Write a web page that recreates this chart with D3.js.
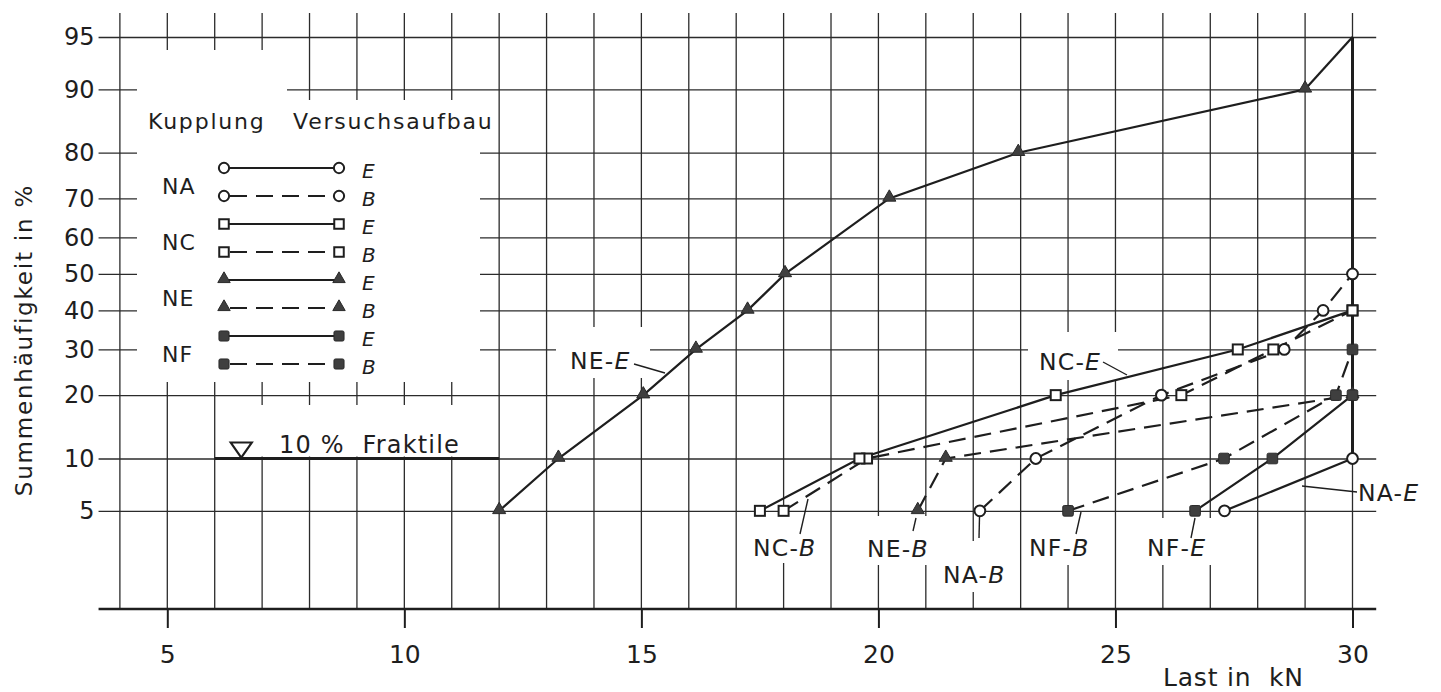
<!DOCTYPE html>
<html><head><meta charset="utf-8">
<script src="https://cdn.jsdelivr.net/npm/d3@7"></script>
<style>
html,body{margin:0;padding:0;background:#fff;}
svg{display:block;font-family:"DejaVu Sans",sans-serif;}
</style></head>
<body><svg id="c" width="1441" height="692"></svg>
<script>
// ---------- data ----------
const xTicks = [5, 10, 15, 20, 25, 30];
const xGrid = d3.range(4, 31);
const pctTicks = [5, 10, 20, 30, 40, 50, 60, 70, 80, 90, 95];
// each point: [Last in kN, Summenhäufigkeit in %]
const NA_E = [[27.3, 5], [30, 10]];
const NA_B = [[22.14, 5], [23.32, 10], [25.97, 20], [28.56, 30], [29.38, 40], [30, 50]];
const NC_E = [[17.5, 5], [19.6, 10], [23.74, 20], [27.58, 30], [30, 40]];
const NC_B = [[18.0, 5], [19.76, 10], [26.39, 20], [28.33, 30], [30, 40]];
const NE_E = [[12, 5], [13.25, 10], [15.04, 20], [16.15, 30], [17.24, 40], [18.03, 50], [20.23, 70], [22.95, 80], [29.0, 90]];
const NE_E_end = [[29.0, 90], [30, 95]];
const NE_B = [[20.83, 5], [21.42, 10], [30, 20]];
const NF_E = [[26.68, 5], [28.31, 10], [30, 20]];
const NF_B = [[24.0, 5], [27.29, 10], [29.65, 20], [30, 30]];
const fraktile = {pct: 10, from: 6, to: 12, mark: 6.56};
const limitLine = {load: 30, from: 10, to: 95};

// ---------- scales ----------
function probit(p){
  const a=[-3.969683028665376e+01,2.209460984245205e+02,-2.759285104469687e+02,1.383577518672690e+02,-3.066479806614716e+01,2.506628277459239e+00];
  const b=[-5.447609879822406e+01,1.615858368580409e+02,-1.556989798598866e+02,6.680131188771972e+01,-1.328068155288572e+01];
  const c=[-7.784894002430293e-03,-3.223964580411365e-01,-2.400758277161838e+00,-2.549732539343734e+00,4.374664141464968e+00,2.938163982698783e+00];
  const d=[7.784695709041462e-03,3.224671290700398e-01,2.445134137142996e+00,3.754408661907416e+00];
  const pl=0.02425, ph=1-pl; let q,r;
  if(p<pl){q=Math.sqrt(-2*Math.log(p));return (((((c[0]*q+c[1])*q+c[2])*q+c[3])*q+c[4])*q+c[5])/((((d[0]*q+d[1])*q+d[2])*q+d[3])*q+1);}
  if(p<=ph){q=p-0.5;r=q*q;return (((((a[0]*r+a[1])*r+a[2])*r+a[3])*r+a[4])*r+a[5])*q/(((((b[0]*r+b[1])*r+b[2])*r+b[3])*r+b[4])*r+1);}
  q=Math.sqrt(-2*Math.log(1-p));return -(((((c[0]*q+c[1])*q+c[2])*q+c[3])*q+c[4])*q+c[5])/((((d[0]*q+d[1])*q+d[2])*q+d[3])*q+1);
}
const x = d3.scaleLinear().domain([5, 30]).range([167.3, 1352.5]);
const yz = d3.scaleLinear().domain([probit(0.01), probit(0.95)]).range([609, 37]);
const y = p => yz(probit(p / 100));

const svg = d3.select("#c");
const INK = "#1e1e1e", GRID = "#2b2b2b", FILL = "#3f3f3f";
const gridLeft = x(3.55), gridRight = x(30.5), gridTop = 13, base = yz(probit(0.01));

// ---------- grid ----------
const g = svg.append("g");
g.selectAll("line.v").data(xGrid).join("line")
  .attr("x1", d => x(d)).attr("x2", d => x(d)).attr("y1", gridTop).attr("y2", base)
  .attr("stroke", GRID).attr("stroke-width", 1.3);

const yAxis = d3.axisLeft(yz)
  .tickValues(pctTicks.map(p => probit(p / 100)))
  .tickFormat((d, i) => pctTicks[i])
  .tickSize(-(gridRight - gridLeft)).tickPadding(4);
const ya = svg.append("g").attr("transform", `translate(${gridLeft},0)`).call(yAxis);
ya.select(".domain").remove();
ya.selectAll(".tick line").attr("stroke", GRID).attr("stroke-width", 1.3);
ya.selectAll(".tick text").attr("font-size", 24).attr("fill", INK).attr("font-family", "DejaVu Sans");

// ---------- white masks (legend, labels) ----------
const masks = svg.append("g").attr("fill", "#fff");
masks.append("polygon").attr("points", "137,50 287,50 287,100 480,100 480,382 137,382");
masks.append("rect").attr("x", x(6) + 1.5).attr("y", 405).attr("width", x(12) - x(6) - 3).attr("height", y(10) - 405 - 2);
const labelBoxes = [[556, 327, 94, 51], [1028, 332, 90, 48], [746, 516, 76, 47], [860, 516, 76, 49],
  [937, 541, 77, 51], [1022, 516, 76, 49], [1140, 518, 75, 47]];
masks.selectAll("rect.lb").data(labelBoxes).join("rect")
  .attr("x", d => d[0]).attr("y", d => d[1]).attr("width", d => d[2]).attr("height", d => d[3]);

// ---------- axis ----------
svg.append("line").attr("x1", gridLeft).attr("x2", gridRight).attr("y1", base).attr("y2", base)
  .attr("stroke", INK).attr("stroke-width", 2.6);
const xAxis = d3.axisBottom(x).tickValues(xTicks).tickSize(19).tickPadding(17);
const xa = svg.append("g").attr("transform", `translate(0,${base})`).call(xAxis);
xa.select(".domain").remove();
xa.selectAll(".tick line").attr("stroke", INK).attr("stroke-width", 2);
xa.selectAll(".tick text").attr("font-size", 25).attr("fill", INK).attr("font-family", "DejaVu Sans");

svg.append("text").attr("x", 1163).attr("y", 686).attr("font-size", 25).attr("letter-spacing", 0.8)
  .attr("fill", INK).attr("xml:space", "preserve").style("white-space", "pre").text("Last in  kN");
svg.append("text").attr("transform", `translate(32,340) rotate(-90)`).attr("text-anchor", "middle")
  .attr("font-size", 23).attr("letter-spacing", 1.8).attr("fill", INK).text("Summenhäufigkeit in %");

// ---------- fraktile + limit ----------
svg.append("line").attr("x1", x(fraktile.from)).attr("x2", x(fraktile.to))
  .attr("y1", y(fraktile.pct)).attr("y2", y(fraktile.pct)).attr("stroke", INK).attr("stroke-width", 2.8);
{
  const cx = x(fraktile.mark), cy = y(fraktile.pct);
  svg.append("path").attr("d", `M${cx - 10.5},${cy - 16}L${cx + 10.5},${cy - 16}L${cx},${cy - 1}Z`)
    .attr("fill", "#fff").attr("stroke", INK).attr("stroke-width", 2.2).attr("stroke-linejoin", "miter");
  svg.append("text").attr("x", 279).attr("y", 453).attr("font-size", 24).attr("letter-spacing", 1.2)
    .attr("fill", INK).attr("xml:space", "preserve").style("white-space", "pre").text("10 %  Fraktile");
}
svg.append("line").attr("x1", x(limitLine.load)).attr("x2", x(limitLine.load))
  .attr("y1", y(limitLine.to)).attr("y2", y(limitLine.from)).attr("stroke", INK).attr("stroke-width", 3);

// ---------- series ----------
const DASH = "17,9";
const series = [
  {d: NE_B, dash: true, m: "tri"},
  {d: NF_B, dash: true, m: "fsq"},
  {d: NF_E, dash: false, m: "fsq"},
  {d: NC_B, dash: true, m: "sq"},
  {d: NA_B, dash: true, m: "circ"},
  {d: NC_E, dash: false, m: "sq"},
  {d: NA_E, dash: false, m: "circ"},
  {d: NE_E, dash: false, m: "tri"},
];
const line = d3.line().x(d => x(d[0])).y(d => y(d[1]));
const lg = svg.append("g").attr("fill", "none").attr("stroke", INK).attr("stroke-width", 2.2);
series.forEach(s => {
  lg.append("path").attr("d", line(s.d)).attr("stroke-dasharray", s.dash ? DASH : null);
});
lg.append("path").attr("d", line(NE_E_end));

function marker(sel, type, cx, cy, scale = 1) {
  if (type === "circ") sel.append("circle").attr("cx", cx).attr("cy", cy).attr("r", 5.4 * scale)
    .attr("fill", "#fff").attr("stroke", INK).attr("stroke-width", 2);
  else if (type === "sq") sel.append("rect").attr("x", cx - 5 * scale).attr("y", cy - 5 * scale)
    .attr("width", 10 * scale).attr("height", 10 * scale)
    .attr("fill", "#fff").attr("stroke", INK).attr("stroke-width", 2);
  else if (type === "fsq") sel.append("rect").attr("x", cx - 5.3 * scale).attr("y", cy - 5.3 * scale)
    .attr("width", 10.6 * scale).attr("height", 10.6 * scale).attr("rx", 1.5)
    .attr("fill", FILL).attr("stroke", "#2a2a2a").attr("stroke-width", 1);
  else if (type === "tri") sel.append("path")
    .attr("d", d3.symbol(d3.symbolTriangle, 74 * scale * scale)())
    .attr("transform", `translate(${cx},${cy - 1})`)
    .attr("fill", FILL).attr("stroke", "#2a2a2a").attr("stroke-width", 1);
}
const mg = svg.append("g");
series.forEach(s => s.d.forEach(p => marker(mg, s.m, x(p[0]), y(p[1]))));

// ---------- series labels ----------
const labels = [
  {t: ["NE-", "E"], x: 570, y: 369, l: [634, 364, 665, 373]},
  {t: ["NC-", "E"], x: 1039, y: 370, l: [1103, 362, 1127, 375]},
  {t: ["NC-", "B"], x: 753, y: 556, l: [800, 534, 808, 499]},
  {t: ["NE-", "B"], x: 867, y: 557, l: [913, 531, 916, 518]},
  {t: ["NA-", "B"], x: 943, y: 583, l: [979.5, 517, 979, 538]},
  {t: ["NF-", "B"], x: 1029, y: 556, l: [1081, 512, 1076, 534]},
  {t: ["NF-", "E"], x: 1147, y: 556, l: [1195, 518, 1191, 538]},
  {t: ["NA-", "E"], x: 1358, y: 501, l: [1302, 486, 1357, 492]},
];
labels.forEach(L => {
  svg.append("line").attr("x1", L.l[0]).attr("y1", L.l[1]).attr("x2", L.l[2]).attr("y2", L.l[3])
    .attr("stroke", INK).attr("stroke-width", 1.4);
  const t = svg.append("text").attr("x", L.x).attr("y", L.y).attr("font-size", 23.5)
    .attr("letter-spacing", 1.2).attr("fill", INK);
  t.append("tspan").text(L.t[0]);
  t.append("tspan").attr("font-style", "italic").text(L.t[1]);
});

// ---------- legend ----------
const legGroups = ["NA", "NC", "NE", "NF"];
const legMarkers = ["circ", "sq", "tri", "fsq"];
const legSetups = ["E", "B"];
const leg = svg.append("g");
leg.append("text").attr("x", 148).attr("y", 129).attr("font-size", 22).attr("letter-spacing", 1.8)
  .attr("fill", INK).text("Kupplung");
leg.append("text").attr("x", 293).attr("y", 129).attr("font-size", 22).attr("letter-spacing", 1.8)
  .attr("fill", INK).text("Versuchsaufbau");
legGroups.forEach((grp, gi) => {
  const y0 = 168 + gi * 56;
  leg.append("text").attr("x", 162).attr("y", y0 + 18).attr("dominant-baseline", "central")
    .attr("font-size", 22).attr("letter-spacing", 1).attr("fill", INK).text(grp);
  legSetups.forEach((su, si) => {
    const yy = y0 + si * 28;
    leg.append("line").attr("x1", 224).attr("x2", 339).attr("y1", yy).attr("y2", yy)
      .attr("stroke", INK).attr("stroke-width", 2).attr("stroke-dasharray", su === "B" ? DASH : null)
      .attr("stroke-dashoffset", su === "B" ? -6 : 0);
    marker(leg, legMarkers[gi], 224, yy, 0.95);
    marker(leg, legMarkers[gi], 339, yy, 0.95);
    leg.append("text").attr("x", 362).attr("y", yy + 3).attr("dominant-baseline", "central")
      .attr("font-size", 20).attr("font-style", "italic").attr("fill", INK).text(su);
  });
});
</script></body></html>
